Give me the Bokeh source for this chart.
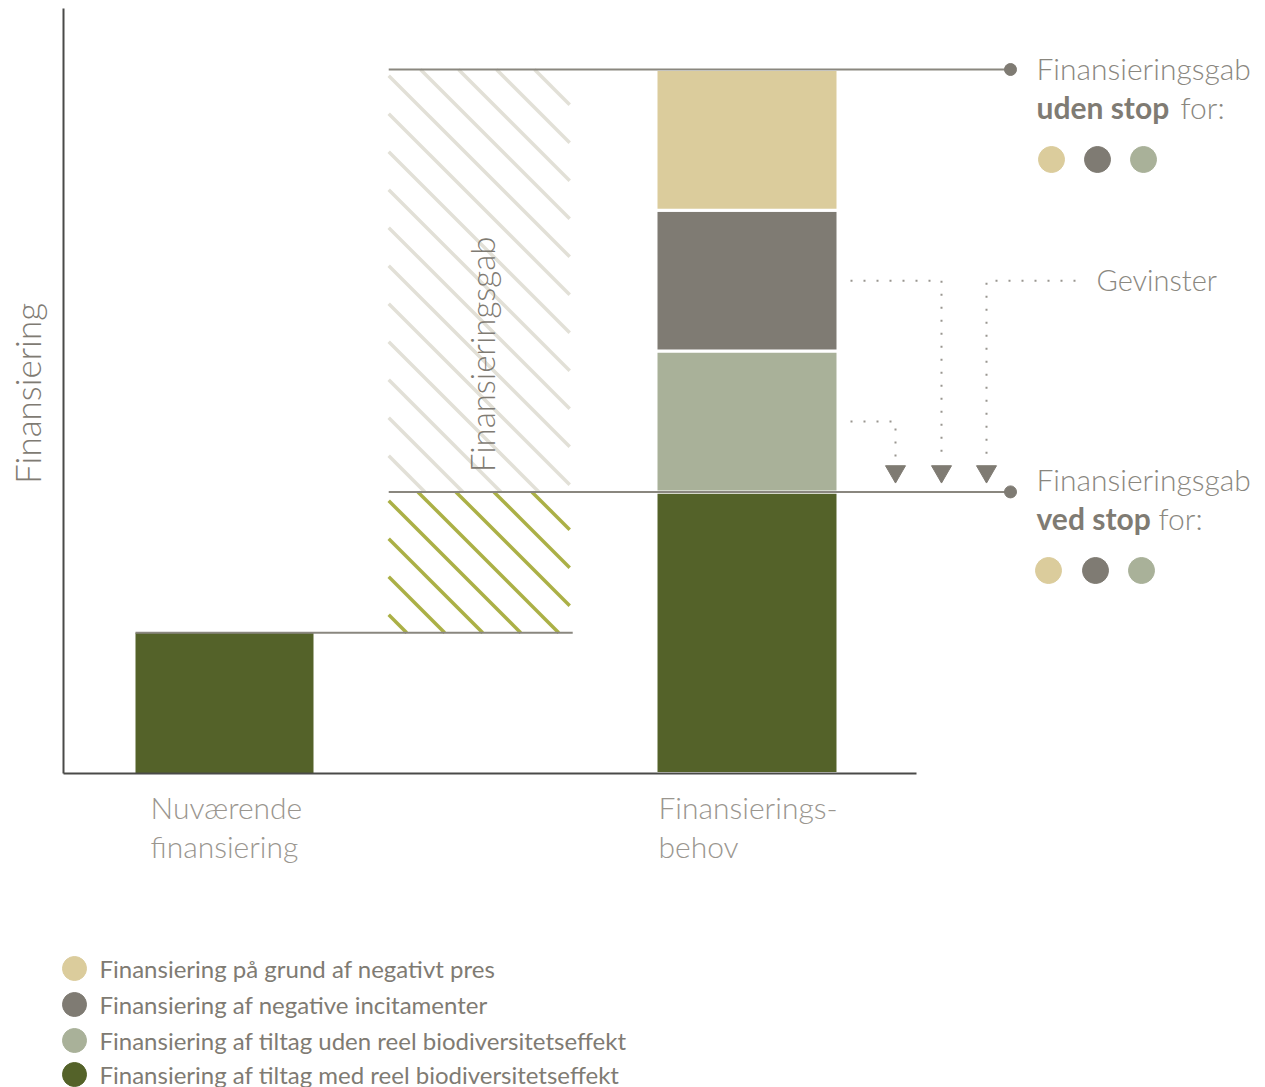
from bokeh.plotting import figure
from bokeh.models import Range1d
from bokeh.embed import file_html
from bokeh.resources import INLINE
from bokeh.core.properties import value
import numpy as np

# ---------------- data ----------------
categories = ["Nuværende finansiering", "Finansieringsgab", "Finansierings-behov"]
x_pos = [0, 0.975, 2]
current_financing = [1.0]
need_labels = [
    "Finansiering af tiltag med reel biodiversitetseffekt",
    "Finansiering af tiltag uden reel biodiversitetseffekt",
    "Finansiering af negative incitamenter",
    "Finansiering på grund af negativt pres",
]
need_values = [2.0, 1.0, 1.0, 1.0]
legend_order = [3, 2, 1, 0]
cat_line1 = ["Nuværende", "Finansierings-"]
cat_line2 = ["finansiering", "behov"]

# ---------------- style ----------------
GREEN = "#546229"
SAGE = "#a9b199"
GRAY = "#7f7b73"
BEIGE = "#dbcc9c"
seg_colors = [GREEN, SAGE, GRAY, BEIGE]
LINE = "#8a877f"
TXT = "#8a877f"
FONT = value("Lato Light")
FONT_B = value("Lato")

PXX = 261.25  # px per category unit
PXY = 140.8   # px per financing unit
def X(px):
    return (px - 224) / PXX
def Y(py):
    return (773 - py) / PXY
def PX(x):
    return 224 + x * PXX
def PY(v):
    return 773 - v * PXY

W = 178 / PXX
W3 = 182 / PXX
WG = 181 / PXX

p = figure(width=1265, height=1087, x_range=Range1d(X(0), X(1265)),
           y_range=Range1d(Y(1087), Y(0)), output_backend="svg",
           toolbar_location=None, x_axis_type=None, y_axis_type=None,
           min_border=0, min_border_left=0, min_border_right=0,
           min_border_top=0, min_border_bottom=0, outline_line_color=None)
p.grid.visible = False

tops = list(np.cumsum(need_values))
bottoms = [0] + tops[:-1]
total = tops[-1]
ved_stop = need_values[0]


def hatch(x_center, width, v_bottom, v_top, color, phase, spacing=38.0, lw=3.5):
    """45-degree diagonal hatch lines clipped to the bar rectangle (pixel geometry)."""
    xa, xb = PX(x_center - width / 2), PX(x_center + width / 2)
    ya, yb = PY(v_top), PY(v_bottom)
    xs_all, ys_all = [], []
    k = phase - spacing * np.ceil((phase - (xa - yb)) / spacing)
    while k < xb - ya:
        s = max(xa, ya + k)
        e = min(xb, yb + k)
        if e > s:
            xs_all.append([X(s), X(e)])
            ys_all.append([Y(s - k), Y(e - k)])
        k += spacing
    p.multi_line(xs=xs_all, ys=ys_all, line_color=color, line_width=lw)


# hatched gap
hatch(x_pos[1], WG, current_financing[0], ved_stop, "#abb046", phase=-74)
hatch(x_pos[1], WG, ved_stop, total, "#e2e0d7", phase=351)

# bars
p.vbar(x=[x_pos[0]], bottom=[0], top=current_financing, width=W, fill_color=GREEN, line_color=None)
p.vbar(x=[x_pos[2]] * 4, bottom=bottoms, top=tops, width=W3, fill_color=seg_colors,
       line_color="white", line_width=3)

# reference lines
p.segment(x0=[x_pos[1] - WG / 2, x_pos[1] - WG / 2], x1=[X(1010), X(1010)],
          y0=[total, ved_stop], y1=[total, ved_stop], line_color=LINE, line_width=2)
p.segment(x0=[x_pos[0] - W / 2], x1=[x_pos[1] + WG / 2 + 3 / PXX], y0=current_financing,
          y1=current_financing, line_color=LINE, line_width=2)
p.scatter(x=[X(1010), X(1010)], y=[total, ved_stop], size=12, color=GRAY)

# axes
p.segment(x0=[X(63), X(63)], x1=[X(63), X(916)], y0=[Y(8), 0], y1=[0, 0],
          line_color="#4a4a48", line_width=2)

# dotted arrows
gray_mid = bottoms[2] + need_values[2] / 2
sage_mid = bottoms[1] + need_values[1] / 2
dash = "2 11"
p.line(x=[X(850), X(941), X(941)], y=[gray_mid, gray_mid, Y(460)], line_color="#999690",
       line_width=2, line_dash=dash)
p.line(x=[X(850), X(895), X(895)], y=[sage_mid, sage_mid, Y(460)], line_color="#999690",
       line_width=2, line_dash=dash)
p.line(x=[X(1075), X(986), X(986)], y=[gray_mid, gray_mid, Y(460)], line_color="#999690",
       line_width=2, line_dash=dash)
p.scatter(x=[X(895), X(941), X(986)], y=[Y(471)] * 3, marker="inverted_triangle",
          size=20, color=GRAY)

# texts
p.text(x=[X(26)], y=[Y(393)], text=["Finansiering"], angle=np.pi / 2, text_font=FONT,
       text_font_size="35px", text_color=GRAY, text_align="center", text_baseline="middle")
p.text(x=[X(481)], y=[Y(354)], text=["Finansieringsgab"], angle=np.pi / 2, text_font=FONT,
       text_font_size="33px", text_color=GRAY, text_align="center", text_baseline="middle")
p.text(x=[X(150), X(658)], y=[Y(806), Y(806)], text=cat_line1, text_font=FONT,
       text_font_size="30px", text_color="#9a968f", text_baseline="middle")
p.text(x=[X(150), X(658)], y=[Y(845), Y(845)], text=cat_line2, text_font=FONT,
       text_font_size="30px", text_color="#9a968f", text_baseline="middle")

p.text(x=[X(1036), X(1036)], y=[Y(67), Y(478)], text=["Finansieringsgab"] * 2, text_font=FONT,
       text_font_size="30px", text_color=TXT, text_baseline="middle")
p.text(x=[X(1036), X(1036)], y=[Y(106), Y(517)], text=["uden stop", "ved stop"], text_font=FONT_B,
       text_font_size="30px", text_color=GRAY, text_font_style="bold", text_baseline="middle")
p.text(x=[X(1180), X(1158)], y=[Y(106), Y(517)], text=["for:", "for:"], text_font=FONT,
       text_font_size="30px", text_color=TXT, text_baseline="middle")
p.text(x=[X(1096)], y=[Y(279)], text=["Gevinster"], text_font=FONT,
       text_font_size="29px", text_color=TXT, text_baseline="middle")

dot_cols = [BEIGE, GRAY, SAGE]
p.scatter(x=[X(1051), X(1097), X(1143)], y=[Y(159)] * 3, size=26, color=dot_cols)
p.scatter(x=[X(1048), X(1095), X(1141)], y=[Y(570)] * 3, size=26, color=dot_cols)

# legend
leg_y = [Y(968), Y(1004), Y(1040), Y(1074)]
p.scatter(x=[X(74)] * 4, y=leg_y, size=24, color=[seg_colors[i] for i in legend_order])
p.text(x=[X(99)] * 4, y=leg_y, text=[need_labels[i] for i in legend_order], text_font=FONT_B,
       text_font_size="24px", text_color=GRAY, text_baseline="middle")

open("out.html", "w").write(file_html(p, INLINE))
